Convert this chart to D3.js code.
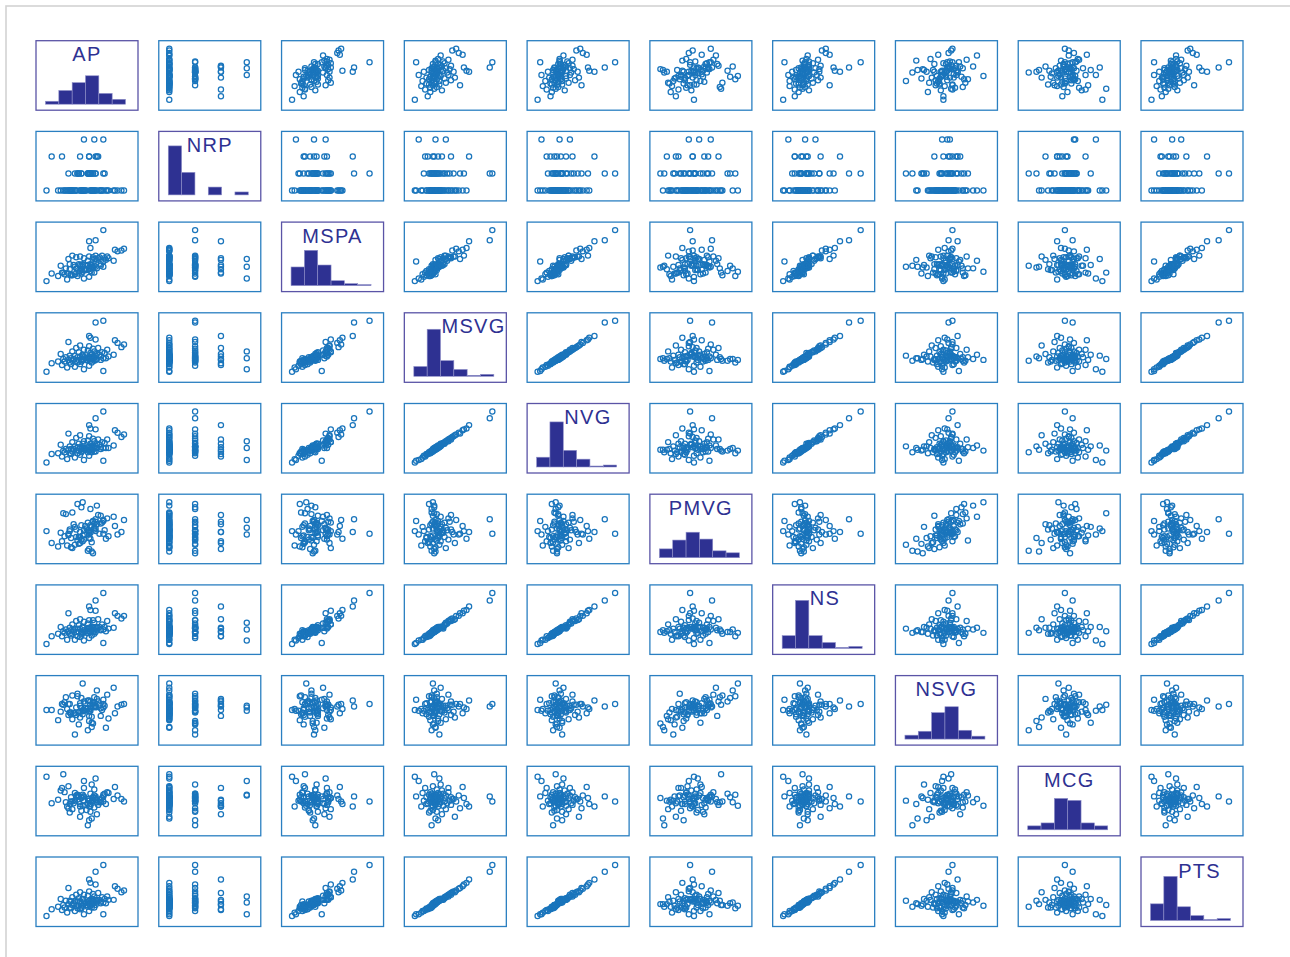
<!DOCTYPE html>
<html>
<head>
<meta charset="utf-8">
<script src="https://cdn.jsdelivr.net/npm/d3@7/dist/d3.min.js"></script>
<style>
  body { margin: 0; background: #fff; }
</style>
</head>
<body>
<svg id="chart" width="1290" height="957"></svg>
<script>
// variable names, in matrix order
var names = ["AP", "NRP", "MSPA", "MSVG", "NVG", "PMVG", "NS", "NSVG", "MCG", "PTS"];

var AP = [0, 44, 29, 16, 22, 33, 12, 26, 19, 4,
  24, 35, 18, 27, 27, 14, 9, 37, 23, 32,
  20, 34, 28, 17, 38, 25, 42, 31, 36, 21,
  13, 33, 39, 27, 30, 44, 35, 19, 32, 46,
  37, 24, 15, 34, 29, 42, 33, 48, 26, 36,
  22, 38, 28, 18, 52, 35, 41, 28, 39, 11,
  45, 34, 43, 25, 37, 20, 32, 47, 29, 36,
  23, 40, 58, 33, 26, 60, 55, 17, 53, 38,
  34, 33, 38, 44];
var NRP = [0, 0, 3, 0, 0, 1, 2, 0, 0, 2,
  1, 0, 0, 0, 1, 0, 0, 0, 0, 1,
  0, 1, 0, 0, 2, 1, 0, 0, 1, 0,
  0, 2, 0, 1, 0, 3, 0, 0, 1, 0,
  0, 1, 0, 1, 0, 0, 1, 0, 2, 0,
  1, 0, 0, 0, 0, 1, 0, 0, 2, 0,
  1, 0, 0, 1, 3, 0, 1, 0, 0, 1,
  0, 2, 0, 1, 0, 0, 0, 1, 0, 1,
  0, 2, 1, 1];
var MSPA = [0, 23, 3, 2, 8, 5, 10, 12, 7, 9,
  6, 10, 14, 9, 13, 8, 6, 10, 15, 18,
  7, 12, 11, 9, 17, 9, 20, 13, 16, 19,
  10, 14, 15, 18, 14, 17, 17, 8, 19, 25,
  18, 15, 15, 20, 13, 18, 16, 27, 19, 16,
  17, 26, 20, 20, 24, 19, 28, 19, 25, 18,
  27, 19, 30, 20, 26, 30, 24, 29, 27, 28,
  28, 27, 36, 29, 29, 38, 35, 26, 37, 30,
  39, 47, 48, 60];
var MSVG = [0, 1, 3, 5, 6, 7, 8, 9, 9, 10,
  11, 11, 11, 12, 12, 12, 12, 13, 13, 13,
  13, 13, 14, 14, 14, 14, 14, 14, 15, 15,
  15, 15, 15, 15, 16, 16, 16, 16, 16, 16,
  17, 17, 17, 17, 17, 18, 18, 18, 18, 18,
  19, 19, 19, 19, 20, 20, 20, 20, 21, 21,
  22, 22, 23, 23, 24, 24, 25, 26, 26, 27,
  28, 28, 29, 30, 31, 32, 34, 35, 37, 38,
  40, 42, 58, 60];
var NVG = [0, 2, 3, 4, 6, 8, 7, 9, 10, 10,
  11, 12, 11, 12, 13, 12, 11, 13, 14, 12,
  13, 14, 14, 15, 13, 14, 16, 15, 15, 16,
  14, 15, 17, 16, 16, 17, 15, 16, 18, 17,
  17, 18, 16, 19, 17, 18, 19, 17, 18, 20,
  19, 20, 18, 19, 20, 19, 21, 22, 22, 21,
  23, 22, 24, 22, 25, 24, 26, 27, 25, 28,
  29, 27, 30, 31, 32, 33, 35, 34, 38, 39,
  40, 44, 52, 60];
var PMVG = [26, 38, 22, 9, 31, 26, 14, 19, 18, 12,
  58, 13, 28, 33, 16, 20, 8, 35, 19, 3,
  48, 52, 60, 21, 37, 11, 44, 29, 0, 34,
  47, 5, 56, 54, 32, 39, 2, 7, 36, 17,
  28, 15, 46, 33, 27, 35, 18, 20, 25, 38,
  10, 29, 21, 26, 43, 31, 23, 14, 34, 24,
  27, 24, 36, 19, 30, 6, 27, 41, 16, 37,
  28, 45, 25, 22, 12, 39, 22, 23, 32, 26,
  17, 25, 40, 23];
var NS = [0, 1, 4, 5, 5, 7, 9, 8, 10, 9,
  9, 10, 12, 10, 12, 13, 12, 12, 14, 13,
  12, 14, 13, 15, 14, 14, 16, 13, 14, 16,
  15, 15, 17, 14, 15, 17, 16, 16, 18, 15,
  16, 18, 17, 19, 16, 17, 19, 18, 18, 20,
  18, 20, 19, 19, 19, 20, 20, 20, 19, 20,
  20, 18, 23, 22, 25, 23, 24, 27, 26, 28,
  27, 29, 30, 28, 29, 33, 33, 36, 36, 39,
  40, 44, 51, 60];
var NSVG = [29, 41, 28, 30, 25, 28, 36, 37, 24, 29,
  45, 21, 26, 31, 27, 38, 17, 44, 32, 5,
  46, 39, 60, 23, 33, 12, 22, 30, 13, 25,
  35, 22, 52, 43, 37, 32, 9, 26, 40, 8,
  38, 48, 44, 28, 39, 31, 16, 19, 34, 37,
  0, 33, 24, 36, 55, 14, 35, 28, 42, 27,
  34, 32, 29, 26, 34, 18, 31, 47, 29, 35,
  23, 39, 35, 27, 20, 36, 33, 36, 25, 32,
  30, 40, 33, 36];
var MCG = [57, 34, 52, 22, 38, 29, 44, 25, 33, 26,
  36, 28, 15, 32, 17, 39, 30, 21, 35, 0,
  28, 37, 23, 46, 30, 34, 27, 18, 32, 26,
  60, 29, 27, 33, 24, 36, 8, 28, 31, 25,
  42, 35, 27, 16, 34, 30, 6, 38, 22, 33,
  29, 55, 36, 25, 31, 48, 27, 34, 13, 41,
  37, 23, 32, 28, 35, 19, 26, 39, 44, 29,
  33, 24, 31, 31, 10, 28, 35, 20, 45, 32,
  25, 22, 34, 28];
var PTS = [0, 2, 2, 4, 6, 6, 7, 8, 9, 8,
  9, 10, 10, 9, 10, 10, 11, 10, 12, 11,
  13, 12, 12, 14, 13, 12, 15, 13, 14, 15,
  13, 14, 16, 15, 15, 16, 14, 17, 16, 15,
  16, 17, 18, 16, 17, 17, 18, 19, 17, 18,
  18, 19, 20, 18, 19, 20, 19, 20, 19, 20,
  20, 19, 22, 21, 23, 22, 24, 23, 25, 26,
  25, 27, 28, 29, 28, 30, 32, 33, 35, 37,
  39, 43, 52, 60];

var columns = [AP, NRP, MSPA, MSVG, NVG, PMVG, NS, NSVG, MCG, PTS];
var nBins = 6;

var svg = d3.select("#chart");

// light frame round the whole plot area
svg.append("rect")
  .attr("x", 6).attr("y", 6)
  .attr("width", 1400).attr("height", 1100)
  .attr("fill", "none")
  .attr("stroke", "#d3d3d3")
  .attr("stroke-width", 1.6);

var n = names.length;
var cellW = 102, cellH = 69.5;
var colX = d3.scaleLinear().domain([0, n - 1]).range([36, 1141]);
var rowY = d3.scaleLinear().domain([0, n - 1]).range([40.7, 857]);

// per variable scales inside a cell
var xs = columns.map(function (c) {
  return d3.scaleLinear().domain(d3.extent(c)).range([10.5, 88]);
});
var ys = columns.map(function (c) {
  return d3.scaleLinear().domain(d3.extent(c)).range([59, 8]);
});

// histograms: equal width bins, closed on the right
var hists = columns.map(function (c) {
  var ext = d3.extent(c), w = (ext[1] - ext[0]) / nBins;
  var counts = d3.range(nBins).map(function () { return 0; });
  c.forEach(function (v) {
    var k = Math.max(0, Math.ceil((v - ext[0]) / w) - 1);
    counts[Math.min(nBins - 1, k)]++;
  });
  return counts;
});
var maxCount = d3.max(hists, function (h) { return d3.max(h); });
var hx = d3.scaleLinear().domain([0, nBins]).range([9.5, 89.5]);
var hy = d3.scaleLinear().domain([0, maxCount]).range([0, 49]);
var histBase = 63.5;

for (var i = 0; i < n; i++) {
  for (var j = 0; j < n; j++) {
    var g = svg.append("g")
      .attr("transform", "translate(" + colX(j) + "," + rowY(i) + ")");

    if (i === j) {
      var counts = hists[i];
      g.selectAll("rect.bar")
        .data(counts)
        .enter().append("rect")
          .attr("class", "bar")
          .attr("x", function (d, k) { return hx(k); })
          .attr("width", hx(1) - hx(0))
          .attr("y", function (d) { return histBase - hy(d); })
          .attr("height", function (d) { return hy(d); })
          .attr("fill", "#2e3192")
          .attr("stroke", "#8f8fc9")
          .attr("stroke-width", 0.6);

      var label = g.append("text")
        .attr("x", cellW / 2)
        .attr("y", 20.5)
        .attr("text-anchor", "middle")
        .style("font-family", "'Liberation Sans', Arial, sans-serif")
        .style("font-size", "20px")
        .style("letter-spacing", "1.3px")
        .style("fill", "#2e3192")
        .text(names[i]);

      // push the label right of any bar that reaches into it
      var bb = label.node().getBBox();
      var left = bb.x, right = bb.x + bb.width;
      counts.forEach(function (d, k) {
        var top = histBase - hy(d);
        if (top < 20.5 && hx(k) < right && hx(k + 1) > left) {
          var shift = hx(k + 1) + 1 - left;
          left += shift; right += shift;
        }
      });
      label.attr("x", left + (right - left) / 2);

      g.append("rect")
        .attr("width", cellW).attr("height", cellH)
        .attr("fill", "none")
        .attr("stroke", "#5a54a6")
        .attr("stroke-width", 1.3);
    } else {
      g.append("rect")
        .attr("width", cellW).attr("height", cellH)
        .attr("fill", "none")
        .attr("stroke", "#2a7fc1")
        .attr("stroke-width", 1.3);

      var xv = columns[j], yv = columns[i];
      g.selectAll("circle")
        .data(d3.range(xv.length))
        .enter().append("circle")
          .attr("cx", function (k) { return xs[j](xv[k]); })
          .attr("cy", function (k) { return ys[i](yv[k]); })
          .attr("r", 2.6)
          .attr("fill", "none")
          .attr("stroke", "#1a75bc")
          .attr("stroke-width", 1.25);
    }
  }
}
</script>
</body>
</html>
